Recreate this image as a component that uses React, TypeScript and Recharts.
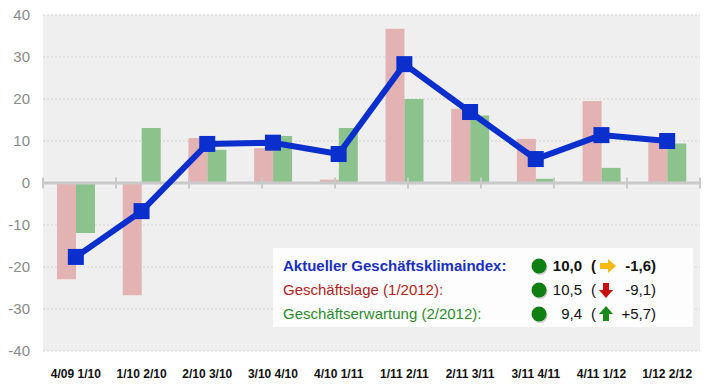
import {
  ComposedChart,
  Bar,
  Line,
  XAxis,
  YAxis,
  CartesianGrid,
  ReferenceLine,
} from "recharts";

const categories = [
  "4/09 1/10",
  "1/10 2/10",
  "2/10 3/10",
  "3/10 4/10",
  "4/10 1/11",
  "1/11 2/11",
  "2/11 3/11",
  "3/11 4/11",
  "4/11 1/12",
  "1/12 2/12",
];
const geschaeftslage = [-22.9, -26.7, 10.7, 8.3, 0.8, 36.7, 17.7, 10.5, 19.5, 9.6];
const geschaeftserwartung = [-11.9, 13.1, 7.9, 11.2, 13.1, 20.0, 16.1, 1.0, 3.6, 9.4];
const klimaindex = [-17.6, -6.7, 9.3, 9.6, 6.9, 28.3, 16.9, 5.7, 11.4, 10.0];
const yTicks = [-40, -30, -20, -10, 0, 10, 20, 30, 40];
const boundaries = [0, 1, 2, 3, 4, 5, 6, 7, 8, 9, 10];

const data = categories.map((name, i) => ({
  name,
  lage: geschaeftslage[i],
  erwartung: geschaeftserwartung[i],
  klima: klimaindex[i],
}));

const FONT = "'Liberation Sans', Arial, sans-serif";
const BLUE = "#0a2fcc";

function SquareDot(props: any) {
  const { cx, cy } = props;
  if (cx == null || cy == null) return null;
  return <rect x={cx - 8} y={cy - 8} width={16} height={16} fill={BLUE} />;
}

function XTick(props: any) {
  const { x, y, payload } = props;
  return (
    <text
      x={x}
      y={y + 27}
      textAnchor="middle"
      fontFamily={FONT}
      fontSize={12}
      fontWeight="bold"
      fill="#111"
    >
      {payload.value}
    </text>
  );
}

function Legend() {
  const rows = [
    { label: "Aktueller Geschäftsklimaindex:", color: "#1a2fc0", bold: true, value: "10,0", change: "-1,6)", y: 271, arrow: "right" },
    { label: "Geschäftslage (1/2012):", color: "#b22222", bold: false, value: "10,5", change: "-9,1)", y: 295, arrow: "down" },
    { label: "Geschäftserwartung (2/2012):", color: "#2e8b2e", bold: false, value: "9,4", change: "+5,7)", y: 319, arrow: "up" },
  ];
  return (
    <svg
      width={708}
      height={386}
      style={{ position: "absolute", left: 0, top: 0, pointerEvents: "none" }}
    >
      <rect x={273} y={248} width={420} height={79} fill="#fdfdfd" />
      {rows.map((r) => {
        const cy = r.y - 5;
        return (
          <g key={r.label} fontFamily={FONT} fontSize={15}>
            <text x={283} y={r.y} fill={r.color} fontWeight={r.bold ? "bold" : "normal"}>
              {r.label}
            </text>
            <circle cx={540} cy={cy + 1.5} r={7.5} fill="#9a9a9a" opacity={0.5} />
            <circle cx={539} cy={cy} r={7.5} fill="#0f7f12" />
            <text x={582} y={r.y} textAnchor="end" fill="#111" fontWeight={r.bold ? "bold" : "normal"}>
              {r.value}
            </text>
            <text x={591} y={r.y} fill="#111" fontWeight={r.bold ? "bold" : "normal"}>
              (
            </text>
            {r.arrow === "right" && (
              <polygon
                points={`600,${cy - 3} 608,${cy - 3} 608,${cy - 7} 616,${cy} 608,${cy + 7} 608,${cy + 3} 600,${cy + 3}`}
                fill="#f5b90f"
              />
            )}
            {r.arrow === "down" && (
              <polygon
                points={`603,${cy - 7} 609,${cy - 7} 609,${cy} 613,${cy} 606,${cy + 8} 599,${cy} 603,${cy}`}
                fill="#c81010"
              />
            )}
            {r.arrow === "up" && (
              <polygon
                points={`603,${cy + 7} 609,${cy + 7} 609,${cy} 613,${cy} 606,${cy - 8} 599,${cy} 603,${cy}`}
                fill="#178a17"
              />
            )}
            <text x={656} y={r.y} textAnchor="end" fill="#111" fontWeight={r.bold ? "bold" : "normal"}>
              {r.change}
            </text>
          </g>
        );
      })}
    </svg>
  );
}

export default function App() {
  return (
    <div style={{ position: "absolute", left: 0, top: 0, width: 708, height: 386, background: "#fff" }}>
      <ComposedChart
        width={708}
        height={386}
        data={data}
        barGap={0}
        margin={{ top: 15, right: 8, left: 0, bottom: 0 }}
      >
        <CartesianGrid
          vertical={false}
          fill="#efefef"
          stroke="#d4d4d4"
          strokeDasharray="2 2"
        />
        <XAxis
          dataKey="name"
          height={35}
          axisLine={false}
          tickLine={false}
          tickSize={0}
          tickMargin={0}
          tick={<XTick />}
          interval={0}
        />
        <XAxis xAxisId="num" type="number" domain={[0, 10]} hide />
        <YAxis
          domain={[-40, 40]}
          ticks={yTicks}
          width={43}
          axisLine={false}
          tickLine={false}
          tickSize={0}
          tickMargin={13}
          tick={{ fontSize: 15, fill: "#8a8a8a", fontFamily: FONT }}
        />
        <ReferenceLine y={0} stroke="#c9c9c9" strokeWidth={3} />
        {boundaries.map((b) => (
          <ReferenceLine
            key={b}
            xAxisId="num"
            segment={[
              { x: b, y: -1.3 },
              { x: b, y: 1.3 },
            ]}
            stroke="#c9c9c9"
            strokeWidth={2}
          />
        ))}
        <Bar dataKey="lage" fill="#e3b3b3" barSize={19} isAnimationActive={false} />
        <Bar dataKey="erwartung" fill="#8cc28c" barSize={19} isAnimationActive={false} />
        <Line
          dataKey="klima"
          type="linear"
          stroke={BLUE}
          strokeWidth={6}
          dot={<SquareDot />}
          activeDot={false}
          isAnimationActive={false}
        />
      </ComposedChart>
      <Legend />
    </div>
  );
}
